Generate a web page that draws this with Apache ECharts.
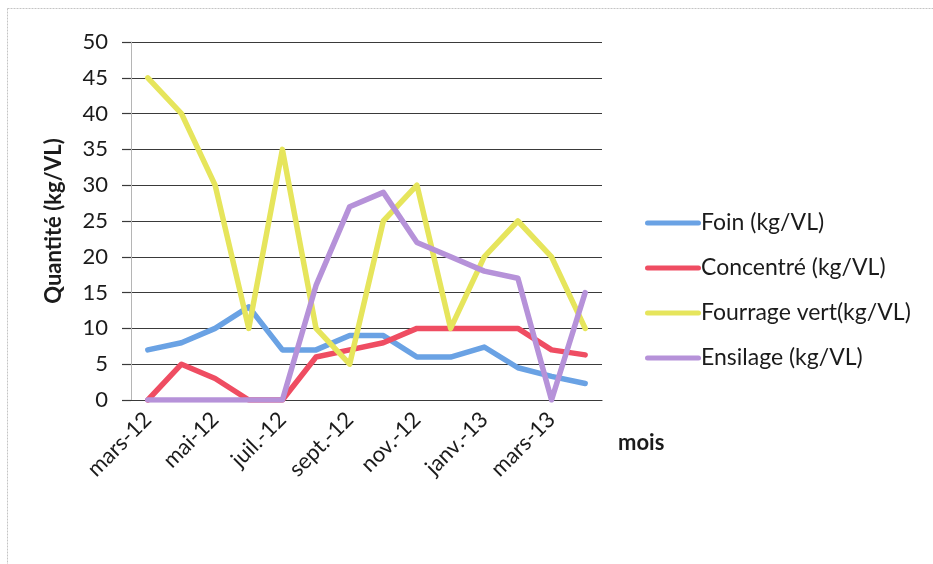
<!DOCTYPE html>
<html>
<head>
<meta charset="utf-8">
<script src="https://cdn.jsdelivr.net/npm/echarts@6/dist/echarts.min.js"></script>
<style>
  html, body { margin: 0; padding: 0; background: #ffffff; }
  #chart { width: 933px; height: 564px; }
</style>
</head>
<body>
<div id="chart"></div>
<script>
// Monthly rations per dairy cow, March 2012 – April 2013
const months = ['mars-12', 'avr.-12', 'mai-12', 'juin-12', 'juil.-12', 'août-12', 'sept.-12',
                'oct.-12', 'nov.-12', 'déc.-12', 'janv.-13', 'févr.-13', 'mars-13', 'avr.-13'];

const foin       = [7, 8, 10, 13, 7, 7, 9, 9, 6, 6, 7.4, 4.5, 3.3, 2.3];
const concentre  = [0, 5, 3, 0, 0, 6, 7, 8, 10, 10, 10, 10, 7, 6.3];
const fourrage   = [45, 40, 30, 10, 35, 10, 5, 25, 30, 10, 20, 25, 20, 10];
const ensilage   = [0, 0, 0, 0, 0, 16, 27, 29, 22, 20, 18, 17, 0, 15];

const seriesNames = ['Foin (kg/VL)', 'Concentré (kg/VL)', 'Fourrage vert(kg/VL)', 'Ensilage (kg/VL)'];
const seriesData  = [foin, concentre, fourrage, ensilage];
const colors      = ['#6aa2e4', '#ef4d62', '#e6e55c', '#b692d9'];

const FONT = 'Lato, "Open Sans", sans-serif';
const TXT = '#1b1b1b';

const chart = echarts.init(document.getElementById('chart'), null, { renderer: 'canvas' });

chart.setOption({
  animation: false,
  backgroundColor: '#ffffff',
  color: colors,
  textStyle: { fontFamily: FONT, color: TXT },
  grid: { left: 131, right: 331, top: 42, bottom: 164, containLabel: false },
  legend: {
    orient: 'vertical',
    left: 640,
    top: 205,
    itemWidth: 56,
    itemHeight: 14,
    itemGap: 19,
    icon: 'path://M2.5,4.5 L53.5,4.5 A2.5,2.5 0 0 1 53.5,9.5 L2.5,9.5 A2.5,2.5 0 0 1 2.5,4.5 Z',
    data: seriesNames,
    textStyle: { fontFamily: FONT, fontSize: 23, color: TXT, lineHeight: 26, padding: [0, 0, 0, -5] }
  },
  xAxis: {
    type: 'category',
    data: months,
    boundaryGap: true,
    name: 'mois',
    nameLocation: 'end',
    nameGap: 16,
    nameTextStyle: { fontFamily: FONT, fontSize: 22, fontWeight: 'bold', color: TXT,
                     verticalAlign: 'top', padding: [32, 0, 0, 0] },
    axisLine: { show: true, lineStyle: { color: '#3a3a3a', width: 1.2 } },
    axisTick: { show: false },
    axisLabel: { interval: 1, rotate: 45, margin: 16, fontFamily: FONT, fontSize: 22, color: TXT },
    splitLine: { show: false }
  },
  yAxis: {
    type: 'value',
    min: 0,
    max: 50,
    interval: 5,
    name: 'Quantité (kg/VL)',
    nameLocation: 'middle',
    nameGap: 66,
    nameTextStyle: { fontFamily: FONT, fontSize: 22, fontWeight: 'bold', color: TXT },
    axisLine: { show: true, lineStyle: { color: '#b5b5b5', width: 1 } },
    axisTick: { show: true, inside: false, length: 9, lineStyle: { color: '#3a3a3a', width: 1.2 } },
    axisLabel: { margin: 23, fontFamily: FONT, fontSize: 22, color: TXT },
    splitLine: { show: true, lineStyle: { color: '#3a3a3a', width: 1.2 } }
  },
  graphic: [{
    type: 'rect',
    shape: { x: 7.5, y: 8.5, width: 940, height: 570 },
    style: { fill: 'none', stroke: '#c4c4c4', lineWidth: 1, lineDash: [2, 1] },
    silent: true,
    z: -1
  }],
  series: seriesNames.map((name, i) => ({
    name: name,
    type: 'line',
    data: seriesData[i],
    symbol: 'none',
    smooth: false,
    lineStyle: { width: 5.5, color: colors[i], cap: 'round', join: 'round' },
    itemStyle: { color: colors[i] },
    z: 2 + i
  }))
});
</script>
</body>
</html>
